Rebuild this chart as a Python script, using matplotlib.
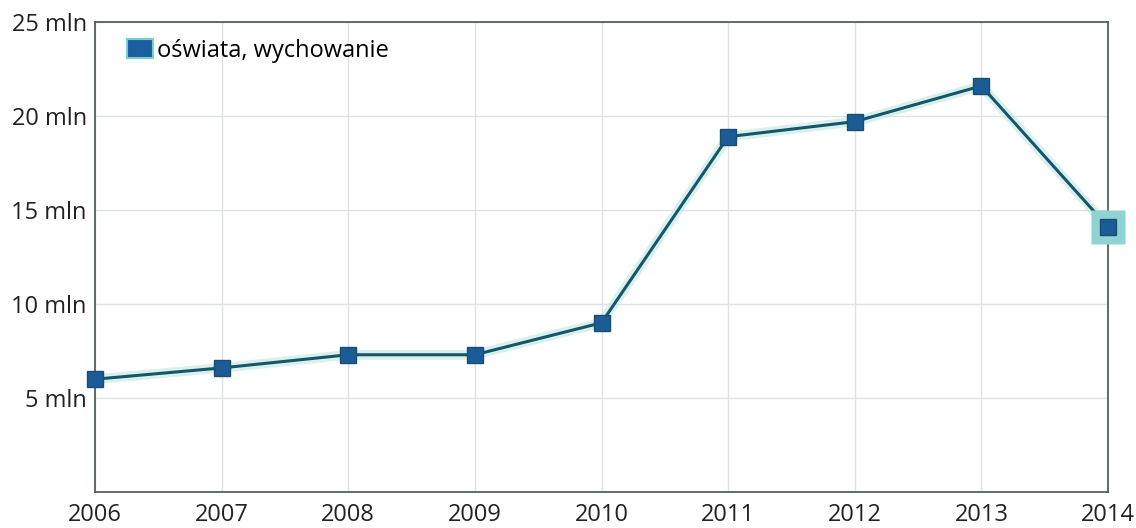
import matplotlib.pyplot as plt
from matplotlib.patches import Patch

lata = [2006, 2007, 2008, 2009, 2010, 2011, 2012, 2013, 2014]
wartosci = [6.0, 6.6, 7.3, 7.3, 9.0, 18.9, 19.7, 21.6, 14.1]
y_ticks = [5, 10, 15, 20, 25]
y_labels = ['5 mln', '10 mln', '15 mln', '20 mln', '25 mln']

plt.rcParams['font.family'] = ['Open Sans', 'DejaVu Sans']

fig = plt.figure(figsize=(11.36, 5.28), dpi=100)
ax = fig.add_axes([95 / 1136, 1 - 492 / 528, (1108 - 95) / 1136, (492 - 22) / 528])

# poświata pod linią
ax.plot(lata, wartosci, color='#bfe8e4', lw=7, alpha=0.6, zorder=2, clip_on=False)
ax.plot(lata, wartosci, color='#16566a', lw=2.2, zorder=3, clip_on=False)
# podświetlony ostatni punkt
ax.plot(lata[-1], wartosci[-1], marker='s', ms=24, color='#8fd3d3', mec='none',
        zorder=3, clip_on=False)
ax.plot(lata, wartosci, ls='none', marker='s', ms=11, color='#1b5c96',
        mec='#1a4d6e', mew=1, zorder=4, clip_on=False)

ax.set_xlim(2006, 2014)
ax.set_ylim(0, 25)
ax.set_xticks(lata)
ax.set_yticks(y_ticks)
ax.set_yticklabels(y_labels)
ax.grid(True, color='#dde3e3', lw=1)
ax.set_axisbelow(True)
ax.tick_params(length=0, labelsize=17, colors='#222222')
ax.tick_params(axis='x', pad=8)
ax.tick_params(axis='y', pad=6)
for s in ax.spines.values():
    s.set_color('#555f5f')
    s.set_linewidth(1.3)
    s.set_zorder(1)

leg = ax.legend(handles=[Patch(facecolor='#1c5fa0', edgecolor='#7ccfc8', lw=1.5,
                               label='oświata, wychowanie')],
                loc='upper left', frameon=False, fontsize=17,
                handlelength=1.1, handleheight=0.9, handletextpad=0.2,
                borderaxespad=0.3, bbox_to_anchor=(0.015, 1.0))

fig.savefig('out.png', dpi=100)
